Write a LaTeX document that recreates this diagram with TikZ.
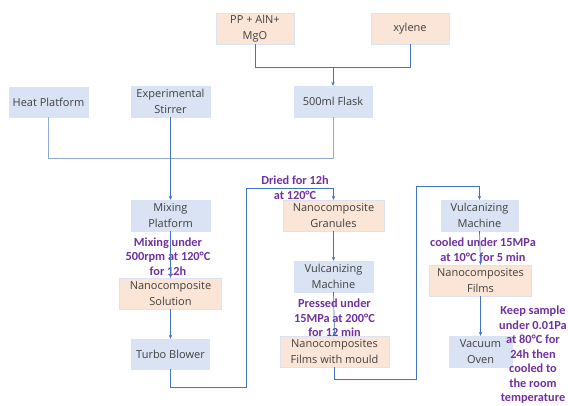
\documentclass[tikz,border=0pt]{standalone}
\usepackage{fontspec}
\setmainfont{Open Sans}
\newfontfamily\notefont{Carlito}
\usetikzlibrary{arrows.meta}
\definecolor{bfill}{HTML}{DAE3F3}
\definecolor{pfill}{HTML}{FBE5D6}
\definecolor{pborder}{HTML}{DAE3F3}
\definecolor{lineblue}{HTML}{4472C4}
\definecolor{buslight}{HTML}{8FAADC}
\definecolor{txtgray}{HTML}{404040}
\definecolor{notepurple}{HTML}{7030A0}
\tikzset{
  bbox/.style={fill=bfill, draw=bfill, inner sep=0pt, align=center, text=txtgray,
    font=\fontsize{11}{15.5}\selectfont, minimum height=31pt},
  pbox/.style={bbox, fill=pfill, draw=pborder},
  note/.style={text=notepurple, align=center, inner sep=0pt,
    font=\notefont\bfseries\fontsize{12.3}{14.5}\selectfont},
  conn/.style={draw=lineblue, line width=0.7pt},
  bus/.style={draw=buslight, line width=1pt},
  arr/.style={conn, -{Stealth[length=4pt,width=3.5pt]}}
}
\begin{document}
\begin{tikzpicture}[x=1pt,y=-1pt]
\useasboundingbox (0,0) rectangle (568,406);
% boxes
\node[pbox, minimum width=78pt] (pp) at (255,28.5) {PP + AlN+\\MgO};
\node[pbox, minimum width=78pt] (xy) at (410,28.5) {xylene};
\node[bbox, minimum width=79pt, minimum height=30pt] (heat) at (48.5,102) {Heat Platform};
\node[bbox, minimum width=79pt] (stir) at (170.5,101.5) {Experimental\\Stirrer};
\node[bbox, minimum width=78pt] (flask) at (333,101.5) {500ml Flask};
\node[bbox, minimum width=79pt] (mix) at (170.5,215.5) {Mixing\\Platform};
\node[pbox, minimum width=102pt] (sol) at (170.5,293.5) {Nanocomposite\\Solution};
\node[bbox, minimum width=78pt, minimum height=30pt] (turbo) at (170.5,354) {Turbo Blower};
\node[pbox, minimum width=101pt] (gran) at (333.5,215.5) {Nanocomposite\\Granules};
\node[bbox, minimum width=79pt] (vul1) at (333.5,276.5) {Vulcanizing\\Machine};
\node[pbox, minimum width=109pt] (film1) at (334.5,351.5) {Nanocomposites\\Films with mould};
\node[bbox, minimum width=77pt] (vul2) at (479.5,215.5) {Vulcanizing\\Machine};
\node[pbox, minimum width=102pt] (film2) at (480.5,280.5) {Nanocomposites\\Films};
\node[bbox, minimum width=63pt] (oven) at (480.5,351.5) {Vacuum\\Oven};
% notes
\node[note] (n1) at (295,187.5) {Dried for 12h\\at 120°C};
\node[note] (n2) at (168,256.5) {Mixing under\\500rpm at 120°C\\for 12h};
\node[note] (n3) at (334.5,318) {Pressed under\\15MPa at 200°C\\for 12 min};
\node[note] (n4) at (483,249.5) {cooled under 15MPa\\at 10°C for 5 min};
\node[note] (n5) at (533,355) {Keep sample\\under 0.01Pa\\at 80°C for\\24h then\\cooled to\\the room\\temperature};
% connectors
\coordinate (j1) at (333,67.5);
\coordinate (j2) at (333,159);
\coordinate (c1) at (246,387);
\coordinate (c2) at (246,188);
\coordinate (c3) at (416,379);
\coordinate (c4) at (416,186);
\draw[conn] (pp.south) |- (j1);
\draw[conn] (xy.south) |- (j1);
\draw[arr] (j1) -- (flask.north);
\draw[bus] (heat.south) |- (j2) -- (flask.south);
\draw[arr] (stir.south) -- (mix.north);
\draw[arr] (mix.south) -- (sol.north);
\draw[arr] (sol.south) -- (turbo.north);
\draw[arr] (turbo.south) |- (c1) -- (c2) -| (gran.north);
\draw[arr] (gran.south) -- (vul1.north);
\draw[arr] (vul1.south) -- (film1.north);
\draw[arr] (film1.south) |- (c3) -- (c4) -| (vul2.north);
\draw[arr] (vul2.south) -- (film2.north);
\draw[arr] (film2.south) -- (oven.north);
\end{tikzpicture}
\end{document}
